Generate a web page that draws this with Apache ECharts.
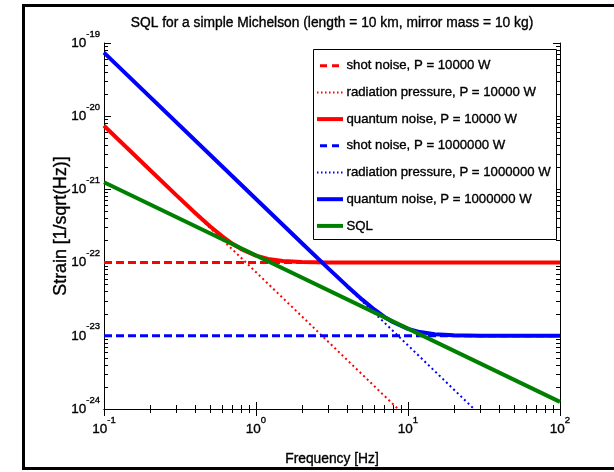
<!DOCTYPE html>
<html><head><meta charset="utf-8">
<script src="https://cdn.jsdelivr.net/npm/echarts@6/dist/echarts.min.js"></script>
<style>html,body{margin:0;padding:0;background:#fff}#c{width:614px;height:472px}</style>
</head><body><div id="c"></div><script>
const FONT = '"Liberation Sans", Arial, Helvetica, sans-serif';
const titleText = 'SQL for a simple Michelson (length = 10 km, mirror mass = 10 kg)';
const xAxisName = 'Frequency [Hz]';
const yAxisName = 'Strain [1/sqrt(Hz)]';
const seriesNames = [
  'shot noise, P = 10000 W',
  'radiation pressure, P = 10000 W',
  'quantum noise, P = 10000 W',
  'shot noise, P = 1000000 W',
  'radiation pressure, P = 1000000 W',
  'quantum noise, P = 1000000 W',
  'SQL'
];
const xMajorTicks = [0.1, 1, 10, 100];
const xMinorTicks = [0.2,0.3,0.4,0.5,0.6,0.7,0.8,0.9,2,3,4,5,6,7,8,9,20,30,40,50,60,70,80,90];
const yMajorTicks = [1e-24, 1e-23, 1e-22, 1e-21, 1e-20, 1e-19];
const yMinorTicks = [
  2e-24,3e-24,4e-24,5e-24,6e-24,7e-24,8e-24,9e-24,
  2e-23,3e-23,4e-23,5e-23,6e-23,7e-23,8e-23,9e-23,
  2e-22,3e-22,4e-22,5e-22,6e-22,7e-22,8e-22,9e-22,
  2e-21,3e-21,4e-21,5e-21,6e-21,7e-21,8e-21,9e-21,
  2e-20,3e-20,4e-20,5e-20,6e-20,7e-20,8e-20,9e-20
];
// straight-line series (two end points each)
const lineFreq = [0.1, 100];
const shot10k = [1e-22, 1e-22];
const radiation10k = [7.4e-21, 7.4e-27];
const shot1M = [1e-23, 1e-23];
const radiation1M = [7.4e-20, 7.4e-26];
const sqlValues = [1.25e-21, 1.25e-24];
// quantum noise curves
const qnFreq10k = [0.1,0.2,0.3,0.4,0.5,0.6,0.7,0.8,1,1.2,1.5,2,3,5,10,100];
const quantum10k = [7.4e-21,1.853e-21,8.28e-22,4.73e-22,3.12e-22,2.29e-22,1.81e-22,1.53e-22,1.244e-22,1.124e-22,1.053e-22,1.017e-22,1.003e-22,1.0004e-22,1e-22,1e-22];
const qnFreq1M = [0.1,1,2,3,4,5,6,7,8,10,12,15,20,30,50,100];
const quantum1M = [7.4e-20,7.4e-22,1.853e-22,8.28e-23,4.73e-23,3.12e-23,2.29e-23,1.81e-23,1.53e-23,1.244e-23,1.124e-23,1.053e-23,1.017e-23,1.003e-23,1.0004e-23,1e-23];

const zip = (xs, ys) => xs.map((x, i) => [x, ys[i]]);
const RED = '#ff0000', BLUE = '#0000ff', GREEN = '#008000';
const DASH = [8, 4], DOT = [2, 3];
const styles = [
  {color: RED, width: 3, type: DASH},
  {color: RED, width: 2, type: DOT},
  {color: RED, width: 4, type: 'solid'},
  {color: BLUE, width: 3, type: DASH},
  {color: BLUE, width: 2, type: DOT},
  {color: BLUE, width: 4, type: 'solid'},
  {color: GREEN, width: 4, type: 'solid'}
];
const seriesData = [
  [lineFreq, shot10k], [lineFreq, radiation10k], [qnFreq10k, quantum10k],
  [lineFreq, shot1M], [lineFreq, radiation1M], [qnFreq1M, quantum1M],
  [lineFreq, sqlValues]
];
const series = seriesData.map((d, i) => ({
  type: 'line', name: seriesNames[i], data: zip(d[0], d[1]), symbol: 'none', showSymbol: false,
  lineStyle: styles[i], itemStyle: {color: styles[i].color}, animation: false, clip: true
}));

const THICK = {textBorderColor: '#000', textBorderWidth: 0.35};
const expLabel = v => '{b|10}{s|' + Math.round(Math.log10(v)) + '}';
const rich = {
  b: Object.assign({fontFamily: FONT, fontSize: 13.5, color: '#000'}, THICK),
  s: Object.assign({fontFamily: FONT, fontSize: 9.5, color: '#000', padding: [0, 0, 18, 0]}, THICK)
};
const black = {color: '#000', width: 1};
function xAx(pos, ticks, len, opts) {
  return Object.assign({type: 'log', logBase: 10, min: 0.1, max: 100, position: pos,
    axisLine: {show: false, lineStyle: black},
    axisTick: {show: true, inside: true, length: len, customValues: ticks, lineStyle: black},
    axisLabel: {show: false}, splitLine: {show: false}, minorTick: {show: false}}, opts || {});
}
function yAx(pos, ticks, len, opts) {
  return Object.assign({type: 'log', logBase: 10, min: 1e-24, max: 1e-19, position: pos,
    axisLine: {show: false, lineStyle: black},
    axisTick: {show: true, inside: true, length: len, customValues: ticks, lineStyle: black},
    axisLabel: {show: false}, splitLine: {show: false}, minorTick: {show: false}}, opts || {});
}

// legend drawn as graphic elements (line samples + text)
const legendGraphics = [];
const LEG_X0 = 317, LEG_X1 = 343, LEG_Y0 = 65.7, LEG_DY = 26.7;
seriesNames.forEach((name, i) => {
  const st = styles[i];
  const y = LEG_Y0 + i * LEG_DY;
  const isDash = Array.isArray(st.type) && st.type[0] > 4;
  legendGraphics.push({
    type: 'line', z: 4,
    shape: {x1: isDash ? 320 : LEG_X0, y1: y, x2: isDash ? 340 : LEG_X1, y2: y},
    style: {stroke: st.color, lineWidth: st.width, lineDash: st.type === 'solid' ? null : (isDash ? [7, 5] : [1.5, 2.5])}
  });
  legendGraphics.push({
    type: 'text', z: 4, x: 346.5, y: y,
    style: Object.assign({text: name, fontFamily: FONT, fontSize: 13.2, fill: '#000', textAlign: 'left', textVerticalAlign: 'middle', stroke: '#000', lineWidth: 0.35})
  });
});

const option = {
  backgroundColor: '#fff',
  animation: false,
  grid: {left: 104, right: 54, top: 43, bottom: 63, containLabel: false, outerBoundsMode: 'none'},
  xAxis: [
    xAx('bottom', xMajorTicks, 7, {
      axisLine: {show: true, lineStyle: black},
      axisLabel: {show: true, customValues: xMajorTicks, formatter: expLabel, rich, margin: 6.5, hideOverlap: false},
      name: xAxisName, nameLocation: 'middle', nameGap: 43, nameMoveOverlap: false,
      nameTextStyle: Object.assign({fontFamily: FONT, fontSize: 13.8, color: '#000'}, THICK)
    }),
    xAx('bottom', xMinorTicks, 4),
    xAx('top', xMajorTicks, 7, {axisLine: {show: true, lineStyle: black}}),
    xAx('top', xMinorTicks, 4)
  ],
  yAxis: [
    yAx('left', yMajorTicks, 7, {
      axisLine: {show: true, lineStyle: black},
      axisLabel: {show: true, customValues: yMajorTicks, formatter: expLabel, rich, margin: 4, hideOverlap: false},
      name: yAxisName, nameLocation: 'middle', nameGap: 34, nameMoveOverlap: false,
      nameTextStyle: Object.assign({fontFamily: FONT, fontSize: 17.8, color: '#000'}, THICK)
    }),
    yAx('left', yMinorTicks, 4),
    yAx('right', yMajorTicks, 7, {axisLine: {show: true, lineStyle: black}}),
    yAx('right', yMinorTicks, 4)
  ],
  graphic: [
    {type: 'rect', z: 3, shape: {x: 313.5, y: 49.5, width: 243, height: 190},
      style: {fill: '#fff', stroke: '#000', lineWidth: 1}},
    ...legendGraphics,
    {type: 'text', z: 10, x: 332, y: 23,
      style: {text: titleText, fontFamily: FONT, fontSize: 13.8, fill: '#000', textAlign: 'center', textVerticalAlign: 'middle', stroke: '#000', lineWidth: 0.35}},
    {type: 'rect', z: 10, shape: {x: 23.5, y: 5.5, width: 700, height: 463},
      style: {fill: null, stroke: '#000', lineWidth: 3}}
  ],
  series
};
const chart = echarts.init(document.getElementById('c'), null, {renderer: 'canvas'});
chart.setOption(option);
</script></body></html>
